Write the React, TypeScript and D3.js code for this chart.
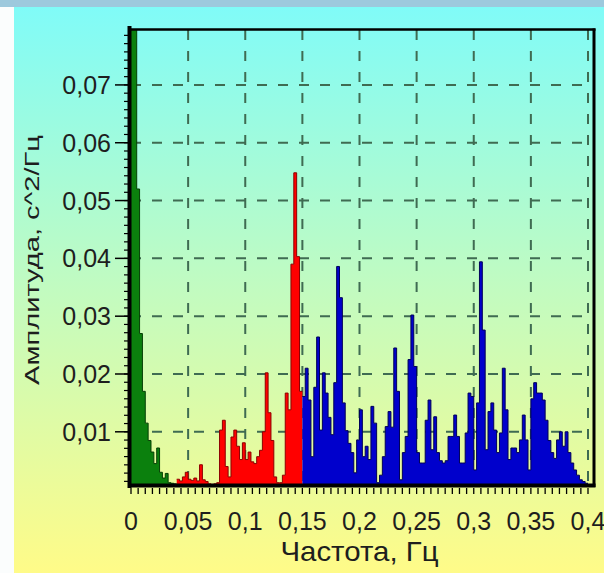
import React from 'react';
import * as d3 from 'd3';

// Spectrum bins (width 0.0025 Hz)
const BIN_WIDTH = 0.0025;

// VLF band 0 – 0.04 Hz
const greenValues = [0.09, 0.09, 0.052, 0.027, 0.017, 0.0115, 0.0085, 0.0065, 0.0045, 0.0072, 0.003, 0.002, 0.0028, 0.0012, 0.0011, 0.001];

// LF band 0.04 – 0.15 Hz
const redValues = [
  0.0018, 0.0015, 0.0022, 0.003, 0.0018, 0.0016, 0.002, 0.0015, 0.0043, 0.0017,
  0.0014, 0.001, 0.0009, 0.001, 0.0012, 0.0103, 0.012, 0.004, 0.0022, 0.0091,
  0.0103, 0.0075, 0.0052, 0.0081, 0.0052, 0.0065, 0.0048, 0.0045, 0.0057, 0.0068,
  0.01, 0.0202, 0.0133, 0.0085, 0.0022, 0.0012, 0.0012, 0.0025, 0.0167, 0.0138,
  0.039, 0.0548, 0.0403, 0.017,
];

// HF band 0.15 – 0.4 Hz
const blueValues = [
  0.0161, 0.021, 0.0155, 0.0057, 0.0177, 0.0264, 0.0103, 0.0202, 0.0167, 0.0125,
  0.0095, 0.0185, 0.0386, 0.0332, 0.015, 0.0102, 0.008, 0.0064, 0.0029, 0.0086,
  0.0138, 0.0057, 0.0075, 0.0052, 0.0144, 0.0115, 0.0012, 0.0025, 0.0057, 0.0109,
  0.0135, 0.0108, 0.0245, 0.017, 0.0017, 0.0064, 0.0092, 0.0225, 0.0302, 0.0213,
  0.0064, 0.0046, 0.0046, 0.012, 0.0155, 0.0069, 0.0126, 0.0064, 0.005, 0.0046,
  0.005, 0.0092, 0.0092, 0.0129, 0.0092, 0.0046, 0.0046, 0.0098, 0.0167, 0.0161,
  0.0034, 0.015, 0.0394, 0.0276, 0.0069, 0.0135, 0.015, 0.0103, 0.0064, 0.0098,
  0.021, 0.0138, 0.0052, 0.0072, 0.0072, 0.0064, 0.0086, 0.0129, 0.0086, 0.0034,
  0.0157, 0.0185, 0.0167, 0.0167, 0.0155, 0.012, 0.0085, 0.0064, 0.0054, 0.0086,
  0.01, 0.0075, 0.01, 0.0064, 0.0046, 0.0034, 0.0025, 0.0017, 0.0014, 0.0011,
];

const xTicks = [0, 0.05, 0.1, 0.15, 0.2, 0.25, 0.3, 0.35, 0.4];
const xTickLabels = ['0', '0,05', '0,1', '0,15', '0,2', '0,25', '0,3', '0,35', '0,4'];
const yTicks = [0.01, 0.02, 0.03, 0.04, 0.05, 0.06, 0.07];
const yTickLabels = ['0,01', '0,02', '0,03', '0,04', '0,05', '0,06', '0,07'];
const xTitle = 'Частота, Гц';
const yTitle = 'Амплитуда, с^2/Гц';

const FONT = '"Liberation Sans", Arial, sans-serif';

export default function App() {
  const W = 604;
  const H = 573;
  const left = 131;
  const right = 594;
  const top = 30;
  const bottom = 485;
  const yMin = 0.0008;

  const x = d3.scaleLinear().domain([0, 0.4]).range([left, 588]);
  const y = d3.scaleLinear().domain([yMin, 0.0795]).range([bottom, top]);

  const series = [
    { key: 'g', values: greenValues, start: 0, fill: '#0b800d', stroke: '#053f05' },
    { key: 'r', values: redValues, start: greenValues.length, fill: '#ff0000', stroke: '#8c0000' },
    { key: 'b', values: blueValues, start: greenValues.length + redValues.length, fill: '#0000cc', stroke: '#000058' },
  ];

  const area = d3
    .area<[number, number]>()
    .x((d) => x(d[0]))
    .y0(y(yMin))
    .y1((d) => y(Math.max(d[1], yMin)))
    .curve(d3.curveStepAfter);
  const line = d3
    .line<[number, number]>()
    .x((d) => x(d[0]))
    .y((d) => y(Math.max(d[1], yMin)))
    .curve(d3.curveStepAfter);

  const xMinor = d3.range(0, 65).map((i) => i * 0.00625);
  const yMinor = d3.range(1, 56).map((i) => i * (0.01 / 7)).filter((v) => y(v) > top + 2);

  const gridColor = '#3f6b52';

  return (
    <svg width={W} height={H} style={{ position: 'absolute', left: 0, top: 0, display: 'block' }}>
      <defs>
        <linearGradient id="bg" x1="0" y1="0" x2="0" y2="1">
          <stop offset="0" stopColor="#80fbf8" />
          <stop offset="0.5" stopColor="#c2fbc0" />
          <stop offset="1" stopColor="#fffb88" />
        </linearGradient>
        <clipPath id="plotClip">
          <rect x={left} y={top} width={right - left} height={bottom - top} />
        </clipPath>
      </defs>

      {/* page background */}
      <rect x={0} y={0} width={W} height={H} fill="#fbfdfd" />
      <rect x={0} y={0} width={W} height={7} fill="#9dc9dd" />
      <rect x={14} y={7} width={W - 14} height={H - 7} fill="url(#bg)" />

      {/* grid */}
      <g stroke={gridColor} strokeWidth={2} strokeDasharray="10,11">
        {xTicks.slice(1).map((t) => (
          <line key={'vx' + t} x1={x(t)} x2={x(t)} y1={top} y2={bottom} />
        ))}
        {yTicks.map((t) => (
          <line key={'hy' + t} x1={left} x2={right} y1={y(t)} y2={y(t)} />
        ))}
      </g>

      {/* spectrum */}
      <g clipPath="url(#plotClip)">
        {series.map((s) => {
          const pts: [number, number][] = s.values.map((v, k) => [(s.start + k) * BIN_WIDTH, v]);
          pts.push([(s.start + s.values.length) * BIN_WIDTH, s.values[s.values.length - 1]]);
          return (
            <g key={s.key}>
              <path d={area(pts) || ''} fill={s.fill} />
              <path d={line(pts) || ''} fill="none" stroke={s.stroke} strokeWidth={1} />
            </g>
          );
        })}
      </g>

      {/* frame */}
      <line x1={left - 1} x2={right + 1.5} y1={top - 0.5} y2={top - 0.5} stroke="#000" strokeWidth={2.5} />
      <line x1={right} x2={right} y1={top - 1.5} y2={bottom + 2} stroke="#000" strokeWidth={3} />
      <line x1={left - 1} x2={right + 1.5} y1={bottom + 0.5} y2={bottom + 0.5} stroke="#000" strokeWidth={4} />
      <line x1={left - 1.5} x2={left - 1.5} y1={top - 4} y2={bottom + 3} stroke="#000" strokeWidth={4} />

      {/* y ticks */}
      <g stroke="#000">
        {yMinor.map((v, i) => (
          <line key={'ym' + i} x1={left - 7} x2={left - 3} y1={y(v)} y2={y(v)} strokeWidth={1.2} />
        ))}
        {yTicks.map((t) => (
          <line key={'yt' + t} x1={left - 16} x2={left - 3} y1={y(t)} y2={y(t)} strokeWidth={1.5} />
        ))}
      </g>
      {/* x ticks */}
      <g stroke="#000">
        {xMinor.map((v, i) => (
          <line key={'xm' + i} x1={x(v)} x2={x(v)} y1={bottom + 3} y2={bottom + 9} strokeWidth={1.3} />
        ))}
      </g>

      {/* tick labels */}
      <g fontFamily={FONT} fontSize={25} fill="#1e1e1e">
        {yTicks.map((t, i) => (
          <text key={'yl' + t} x={111} y={y(t) + 9} textAnchor="end">
            {yTickLabels[i]}
          </text>
        ))}
        {xTicks.map((t, i) => (
          <text key={'xl' + t} x={x(t)} y={530} textAnchor="middle">
            {xTickLabels[i]}
          </text>
        ))}
      </g>

      {/* axis titles */}
      <text
        x={x(0.2)}
        y={561}
        textAnchor="middle"
        fontFamily={FONT}
        fontSize={28}
        fill="#1e1e1e"
        textLength={158}
        lengthAdjust="spacingAndGlyphs"
      >
        {xTitle}
      </text>
      <text
        transform={`translate(39, 260) rotate(-90)`}
        textAnchor="middle"
        fontFamily={FONT}
        fontSize={21}
        fill="#1e1e1e"
        textLength={250}
        lengthAdjust="spacingAndGlyphs"
      >
        {yTitle}
      </text>
    </svg>
  );
}
